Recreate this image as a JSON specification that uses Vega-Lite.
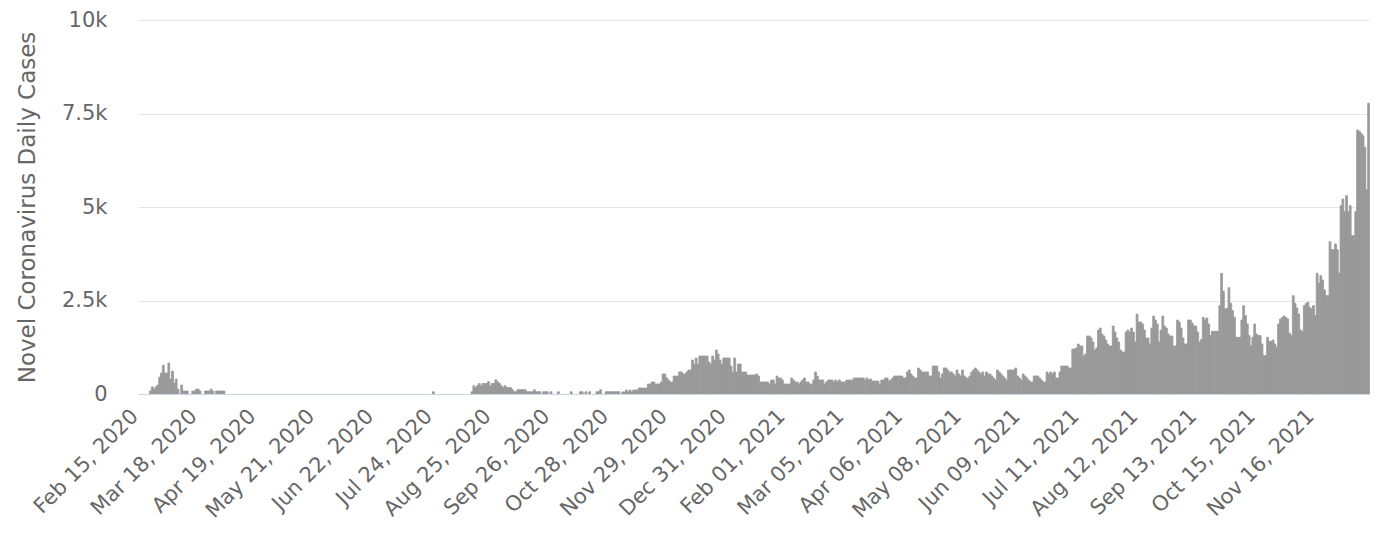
{
"$schema": "https://vega.github.io/schema/vega-lite/v6.json",
"width": 1231, "height": 374,
"autosize": "none",
"padding": {"left": 138, "top": 20, "right": 20, "bottom": 142},
"background": "#ffffff",
"config": {"view": {"stroke": null}, "font": "DejaVu Sans"},
"data": {"values": [
{"d":"2020-02-21","v":80},{"d":"2020-02-22","v":190},{"d":"2020-02-23","v":130},{"d":"2020-02-24","v":190},{"d":"2020-02-25","v":240},{"d":"2020-02-26","v":450},{"d":"2020-02-27","v":560},{"d":"2020-02-28","v":770},{"d":"2020-02-29","v":560},
{"d":"2020-03-01","v":560},{"d":"2020-03-02","v":830},{"d":"2020-03-03","v":400},{"d":"2020-03-04","v":610},{"d":"2020-03-05","v":290},{"d":"2020-03-06","v":400},{"d":"2020-03-07","v":130},{"d":"2020-03-09","v":240},{"d":"2020-03-10","v":80},{"d":"2020-03-11","v":80},{"d":"2020-03-12","v":80},{"d":"2020-03-15","v":80},{"d":"2020-03-16","v":80},{"d":"2020-03-17","v":130},{"d":"2020-03-18","v":130},{"d":"2020-03-19","v":80},{"d":"2020-03-22","v":80},{"d":"2020-03-23","v":80},{"d":"2020-03-24","v":80},{"d":"2020-03-25","v":130},{"d":"2020-03-26","v":80},{"d":"2020-03-28","v":80},{"d":"2020-03-29","v":80},{"d":"2020-03-30","v":80},{"d":"2020-03-31","v":80},{"d":"2020-04-01","v":80},
{"d":"2020-07-24","v":60},
{"d":"2020-08-14","v":60},{"d":"2020-08-15","v":220},{"d":"2020-08-16","v":170},{"d":"2020-08-17","v":220},{"d":"2020-08-18","v":280},{"d":"2020-08-19","v":220},{"d":"2020-08-20","v":280},{"d":"2020-08-21","v":280},{"d":"2020-08-22","v":280},{"d":"2020-08-23","v":330},{"d":"2020-08-24","v":220},{"d":"2020-08-25","v":280},{"d":"2020-08-26","v":280},{"d":"2020-08-27","v":380},{"d":"2020-08-28","v":330},{"d":"2020-08-29","v":280},{"d":"2020-08-30","v":220},{"d":"2020-08-31","v":170},
{"d":"2020-09-01","v":220},{"d":"2020-09-02","v":170},{"d":"2020-09-03","v":170},{"d":"2020-09-04","v":170},{"d":"2020-09-05","v":115},{"d":"2020-09-06","v":60},{"d":"2020-09-07","v":60},{"d":"2020-09-08","v":115},{"d":"2020-09-09","v":115},{"d":"2020-09-10","v":115},{"d":"2020-09-11","v":115},{"d":"2020-09-12","v":115},{"d":"2020-09-13","v":60},{"d":"2020-09-14","v":60},{"d":"2020-09-15","v":60},{"d":"2020-09-16","v":60},{"d":"2020-09-17","v":115},{"d":"2020-09-18","v":60},{"d":"2020-09-19","v":60},{"d":"2020-09-20","v":60},{"d":"2020-09-22","v":60},{"d":"2020-09-23","v":60},{"d":"2020-09-24","v":60},{"d":"2020-09-26","v":60},{"d":"2020-09-30","v":60},
{"d":"2020-10-07","v":60},{"d":"2020-10-12","v":60},{"d":"2020-10-13","v":60},{"d":"2020-10-15","v":60},{"d":"2020-10-17","v":60},{"d":"2020-10-21","v":60},{"d":"2020-10-22","v":60},{"d":"2020-10-23","v":115},{"d":"2020-10-26","v":60},{"d":"2020-10-27","v":60},{"d":"2020-10-28","v":60},{"d":"2020-10-29","v":60},{"d":"2020-10-30","v":60},{"d":"2020-10-31","v":60},
{"d":"2020-11-01","v":60},{"d":"2020-11-02","v":60},{"d":"2020-11-04","v":55},{"d":"2020-11-05","v":55},{"d":"2020-11-06","v":107},{"d":"2020-11-07","v":55},{"d":"2020-11-08","v":107},{"d":"2020-11-09","v":55},{"d":"2020-11-10","v":107},{"d":"2020-11-11","v":107},{"d":"2020-11-12","v":107},{"d":"2020-11-13","v":160},{"d":"2020-11-14","v":160},{"d":"2020-11-15","v":160},{"d":"2020-11-16","v":160},{"d":"2020-11-17","v":160},{"d":"2020-11-18","v":267},{"d":"2020-11-19","v":267},{"d":"2020-11-20","v":320},{"d":"2020-11-21","v":320},{"d":"2020-11-22","v":267},{"d":"2020-11-23","v":267},{"d":"2020-11-24","v":267},{"d":"2020-11-25","v":320},{"d":"2020-11-26","v":535},{"d":"2020-11-27","v":535},{"d":"2020-11-28","v":430},{"d":"2020-11-29","v":375},{"d":"2020-11-30","v":320},
{"d":"2020-12-01","v":320},{"d":"2020-12-02","v":480},{"d":"2020-12-03","v":480},{"d":"2020-12-04","v":480},{"d":"2020-12-05","v":590},{"d":"2020-12-06","v":590},{"d":"2020-12-07","v":535},{"d":"2020-12-08","v":535},{"d":"2020-12-09","v":590},{"d":"2020-12-10","v":640},{"d":"2020-12-11","v":640},{"d":"2020-12-12","v":909},{"d":"2020-12-13","v":800},{"d":"2020-12-14","v":962},{"d":"2020-12-15","v":802},{"d":"2020-12-16","v":1016},{"d":"2020-12-17","v":1016},{"d":"2020-12-18","v":1016},{"d":"2020-12-19","v":1016},{"d":"2020-12-20","v":1016},{"d":"2020-12-21","v":855},{"d":"2020-12-22","v":802},{"d":"2020-12-23","v":1016},{"d":"2020-12-24","v":909},{"d":"2020-12-25","v":1176},{"d":"2020-12-26","v":1069},{"d":"2020-12-27","v":909},{"d":"2020-12-28","v":802},{"d":"2020-12-29","v":962},{"d":"2020-12-30","v":962},{"d":"2020-12-31","v":962},
{"d":"2021-01-01","v":962},{"d":"2021-01-02","v":748},{"d":"2021-01-03","v":588},{"d":"2021-01-04","v":962},{"d":"2021-01-05","v":588},{"d":"2021-01-06","v":802},{"d":"2021-01-07","v":802},{"d":"2021-01-08","v":588},{"d":"2021-01-09","v":588},{"d":"2021-01-10","v":588},{"d":"2021-01-11","v":508},{"d":"2021-01-12","v":508},{"d":"2021-01-13","v":508},{"d":"2021-01-14","v":508},{"d":"2021-01-15","v":508},{"d":"2021-01-16","v":535},{"d":"2021-01-17","v":481},{"d":"2021-01-18","v":321},{"d":"2021-01-19","v":321},{"d":"2021-01-20","v":321},{"d":"2021-01-21","v":321},{"d":"2021-01-22","v":321},{"d":"2021-01-23","v":267},{"d":"2021-01-24","v":374},{"d":"2021-01-25","v":374},{"d":"2021-01-26","v":267},{"d":"2021-01-27","v":481},{"d":"2021-01-28","v":428},{"d":"2021-01-29","v":428},{"d":"2021-01-30","v":374},{"d":"2021-01-31","v":267},
{"d":"2021-02-01","v":267},{"d":"2021-02-02","v":267},{"d":"2021-02-03","v":267},{"d":"2021-02-04","v":428},{"d":"2021-02-05","v":374},{"d":"2021-02-06","v":321},{"d":"2021-02-07","v":321},{"d":"2021-02-08","v":267},{"d":"2021-02-09","v":321},{"d":"2021-02-10","v":374},{"d":"2021-02-11","v":428},{"d":"2021-02-12","v":321},{"d":"2021-02-13","v":321},{"d":"2021-02-14","v":267},{"d":"2021-02-15","v":267},{"d":"2021-02-16","v":374},{"d":"2021-02-17","v":588},{"d":"2021-02-18","v":481},{"d":"2021-02-19","v":374},{"d":"2021-02-20","v":374},{"d":"2021-02-21","v":374},{"d":"2021-02-22","v":267},{"d":"2021-02-23","v":321},{"d":"2021-02-24","v":374},{"d":"2021-02-25","v":374},{"d":"2021-02-26","v":374},{"d":"2021-02-27","v":321},{"d":"2021-02-28","v":374},
{"d":"2021-03-01","v":321},{"d":"2021-03-02","v":374},{"d":"2021-03-03","v":321},{"d":"2021-03-04","v":321},{"d":"2021-03-05","v":321},{"d":"2021-03-06","v":374},{"d":"2021-03-07","v":374},{"d":"2021-03-08","v":374},{"d":"2021-03-09","v":374},{"d":"2021-03-10","v":428},{"d":"2021-03-11","v":428},{"d":"2021-03-12","v":428},{"d":"2021-03-13","v":428},{"d":"2021-03-14","v":428},{"d":"2021-03-15","v":428},{"d":"2021-03-16","v":374},{"d":"2021-03-17","v":428},{"d":"2021-03-18","v":374},{"d":"2021-03-19","v":401},{"d":"2021-03-20","v":347},{"d":"2021-03-21","v":347},{"d":"2021-03-22","v":347},{"d":"2021-03-23","v":347},{"d":"2021-03-24","v":267},{"d":"2021-03-25","v":374},{"d":"2021-03-26","v":374},{"d":"2021-03-27","v":428},{"d":"2021-03-28","v":428},{"d":"2021-03-29","v":347},{"d":"2021-03-30","v":374},{"d":"2021-03-31","v":428},
{"d":"2021-04-01","v":481},{"d":"2021-04-02","v":481},{"d":"2021-04-03","v":481},{"d":"2021-04-04","v":481},{"d":"2021-04-05","v":481},{"d":"2021-04-06","v":428},{"d":"2021-04-07","v":428},{"d":"2021-04-08","v":588},{"d":"2021-04-09","v":642},{"d":"2021-04-10","v":535},{"d":"2021-04-11","v":481},{"d":"2021-04-12","v":428},{"d":"2021-04-13","v":428},{"d":"2021-04-14","v":695},{"d":"2021-04-15","v":642},{"d":"2021-04-16","v":588},{"d":"2021-04-17","v":588},{"d":"2021-04-18","v":588},{"d":"2021-04-19","v":588},{"d":"2021-04-20","v":481},{"d":"2021-04-21","v":481},{"d":"2021-04-22","v":748},{"d":"2021-04-23","v":748},{"d":"2021-04-24","v":748},{"d":"2021-04-25","v":588},{"d":"2021-04-26","v":428},{"d":"2021-04-27","v":535},{"d":"2021-04-28","v":695},{"d":"2021-04-29","v":695},{"d":"2021-04-30","v":642},
{"d":"2021-05-01","v":588},{"d":"2021-05-02","v":588},{"d":"2021-05-03","v":535},{"d":"2021-05-04","v":481},{"d":"2021-05-05","v":642},{"d":"2021-05-06","v":535},{"d":"2021-05-07","v":481},{"d":"2021-05-08","v":642},{"d":"2021-05-09","v":481},{"d":"2021-05-10","v":428},{"d":"2021-05-11","v":428},{"d":"2021-05-12","v":481},{"d":"2021-05-13","v":588},{"d":"2021-05-14","v":642},{"d":"2021-05-15","v":695},{"d":"2021-05-16","v":642},{"d":"2021-05-17","v":588},{"d":"2021-05-18","v":535},{"d":"2021-05-19","v":588},{"d":"2021-05-20","v":481},{"d":"2021-05-21","v":588},{"d":"2021-05-22","v":535},{"d":"2021-05-23","v":535},{"d":"2021-05-24","v":481},{"d":"2021-05-25","v":428},{"d":"2021-05-26","v":374},{"d":"2021-05-27","v":642},{"d":"2021-05-28","v":588},{"d":"2021-05-29","v":535},{"d":"2021-05-30","v":481},{"d":"2021-05-31","v":428},
{"d":"2021-06-01","v":374},{"d":"2021-06-02","v":642},{"d":"2021-06-03","v":642},{"d":"2021-06-04","v":642},{"d":"2021-06-05","v":642},{"d":"2021-06-06","v":695},{"d":"2021-06-07","v":481},{"d":"2021-06-08","v":428},{"d":"2021-06-09","v":374},{"d":"2021-06-10","v":535},{"d":"2021-06-11","v":481},{"d":"2021-06-12","v":428},{"d":"2021-06-13","v":374},{"d":"2021-06-14","v":321},{"d":"2021-06-15","v":321},{"d":"2021-06-16","v":481},{"d":"2021-06-17","v":481},{"d":"2021-06-18","v":481},{"d":"2021-06-19","v":428},{"d":"2021-06-20","v":374},{"d":"2021-06-21","v":321},{"d":"2021-06-22","v":321},{"d":"2021-06-23","v":588},{"d":"2021-06-24","v":535},{"d":"2021-06-25","v":588},{"d":"2021-06-26","v":535},{"d":"2021-06-27","v":588},{"d":"2021-06-28","v":428},{"d":"2021-06-29","v":428},{"d":"2021-06-30","v":588},
{"d":"2021-07-01","v":748},{"d":"2021-07-02","v":748},{"d":"2021-07-03","v":748},{"d":"2021-07-04","v":748},{"d":"2021-07-05","v":695},{"d":"2021-07-06","v":695},{"d":"2021-07-07","v":1203},{"d":"2021-07-08","v":1203},{"d":"2021-07-09","v":1230},{"d":"2021-07-10","v":1337},{"d":"2021-07-11","v":1283},{"d":"2021-07-12","v":1283},{"d":"2021-07-13","v":1016},{"d":"2021-07-14","v":1069},{"d":"2021-07-15","v":1550},{"d":"2021-07-16","v":1550},{"d":"2021-07-17","v":1497},{"d":"2021-07-18","v":1390},{"d":"2021-07-19","v":1176},{"d":"2021-07-20","v":1230},{"d":"2021-07-21","v":1711},{"d":"2021-07-22","v":1764},{"d":"2021-07-23","v":1600},{"d":"2021-07-24","v":1550},{"d":"2021-07-25","v":1443},{"d":"2021-07-26","v":1337},{"d":"2021-07-27","v":1283},{"d":"2021-07-28","v":1283},{"d":"2021-07-29","v":1818},{"d":"2021-07-30","v":1657},{"d":"2021-07-31","v":1497},
{"d":"2021-08-01","v":1390},{"d":"2021-08-02","v":1176},{"d":"2021-08-03","v":1123},{"d":"2021-08-04","v":1123},{"d":"2021-08-05","v":1657},{"d":"2021-08-06","v":1711},{"d":"2021-08-07","v":1657},{"d":"2021-08-08","v":1764},{"d":"2021-08-09","v":1657},{"d":"2021-08-10","v":1390},{"d":"2021-08-11","v":2138},{"d":"2021-08-12","v":1925},{"d":"2021-08-13","v":1925},{"d":"2021-08-14","v":1871},{"d":"2021-08-15","v":1711},{"d":"2021-08-16","v":1497},{"d":"2021-08-17","v":1497},{"d":"2021-08-18","v":1337},{"d":"2021-08-19","v":1764},{"d":"2021-08-20","v":2085},{"d":"2021-08-21","v":1978},{"d":"2021-08-22","v":1871},{"d":"2021-08-23","v":1390},{"d":"2021-08-24","v":1711},{"d":"2021-08-25","v":2085},{"d":"2021-08-26","v":1818},{"d":"2021-08-27","v":1764},{"d":"2021-08-28","v":1604},{"d":"2021-08-29","v":1550},{"d":"2021-08-30","v":1550},{"d":"2021-08-31","v":1283},
{"d":"2021-09-01","v":1283},{"d":"2021-09-02","v":1978},{"d":"2021-09-03","v":1925},{"d":"2021-09-04","v":1764},{"d":"2021-09-05","v":1497},{"d":"2021-09-06","v":1337},{"d":"2021-09-07","v":1337},{"d":"2021-09-08","v":1978},{"d":"2021-09-09","v":1978},{"d":"2021-09-10","v":1900},{"d":"2021-09-11","v":1818},{"d":"2021-09-12","v":1818},{"d":"2021-09-13","v":1657},{"d":"2021-09-14","v":1390},{"d":"2021-09-15","v":1460},{"d":"2021-09-16","v":2050},{"d":"2021-09-17","v":1979},{"d":"2021-09-18","v":2032},{"d":"2021-09-19","v":1872},{"d":"2021-09-20","v":1560},{"d":"2021-09-21","v":1676},{"d":"2021-09-22","v":1676},{"d":"2021-09-23","v":1676},{"d":"2021-09-24","v":1676},{"d":"2021-09-25","v":2362},{"d":"2021-09-26","v":3227},{"d":"2021-09-27","v":2745},{"d":"2021-09-28","v":2273},{"d":"2021-09-29","v":2291},{"d":"2021-09-30","v":2843},
{"d":"2021-10-01","v":2424},{"d":"2021-10-02","v":2228},{"d":"2021-10-03","v":2050},{"d":"2021-10-04","v":1515},{"d":"2021-10-05","v":1515},{"d":"2021-10-06","v":1515},{"d":"2021-10-07","v":1979},{"d":"2021-10-08","v":2362},{"d":"2021-10-09","v":2095},{"d":"2021-10-10","v":1872},{"d":"2021-10-11","v":1560},{"d":"2021-10-12","v":1292},{"d":"2021-10-13","v":1515},{"d":"2021-10-14","v":1872},{"d":"2021-10-15","v":1604},{"d":"2021-10-16","v":1560},{"d":"2021-10-17","v":1560},{"d":"2021-10-18","v":1337},{"d":"2021-10-19","v":1025},{"d":"2021-10-20","v":1025},{"d":"2021-10-21","v":1515},{"d":"2021-10-22","v":1408},{"d":"2021-10-23","v":1408},{"d":"2021-10-24","v":1444},{"d":"2021-10-25","v":1337},{"d":"2021-10-26","v":1248},{"d":"2021-10-27","v":1872},{"d":"2021-10-28","v":2000},{"d":"2021-10-29","v":2050},{"d":"2021-10-30","v":2086},{"d":"2021-10-31","v":2050},
{"d":"2021-11-01","v":2005},{"d":"2021-11-02","v":1622},{"d":"2021-11-03","v":1560},{"d":"2021-11-04","v":2629},{"d":"2021-11-05","v":2424},{"d":"2021-11-06","v":2300},{"d":"2021-11-07","v":2139},{"d":"2021-11-08","v":1711},{"d":"2021-11-09","v":1676},{"d":"2021-11-10","v":2362},{"d":"2021-11-11","v":2420},{"d":"2021-11-12","v":2451},{"d":"2021-11-13","v":2317},{"d":"2021-11-14","v":2273},{"d":"2021-11-15","v":2362},{"d":"2021-11-16","v":2095},{"d":"2021-11-17","v":3227},{"d":"2021-11-18","v":2959},{"d":"2021-11-19","v":3164},{"d":"2021-11-20","v":3048},{"d":"2021-11-21","v":2781},{"d":"2021-11-22","v":2629},{"d":"2021-11-23","v":2629},{"d":"2021-11-24","v":4073},{"d":"2021-11-25","v":3859},{"d":"2021-11-26","v":3859},{"d":"2021-11-27","v":4011},{"d":"2021-11-28","v":3859},{"d":"2021-11-29","v":3227},{"d":"2021-11-30","v":5036},
{"d":"2021-12-01","v":5214},{"d":"2021-12-02","v":4875},{"d":"2021-12-03","v":5303},{"d":"2021-12-04","v":4875},{"d":"2021-12-05","v":5036},{"d":"2021-12-06","v":4234},{"d":"2021-12-07","v":4234},{"d":"2021-12-08","v":4875},{"d":"2021-12-09","v":7059},{"d":"2021-12-10","v":7023},{"d":"2021-12-11","v":6970},{"d":"2021-12-12","v":6908},{"d":"2021-12-13","v":6596},{"d":"2021-12-14","v":5464},{"d":"2021-12-15","v":7772}
]},
"mark": {"type": "bar", "color": "#999999", "binSpacing": 0, "stroke": "#999999", "strokeWidth": 0.8},
"encoding": {
  "x": {"field": "d", "type": "temporal", "timeUnit": "utcyearmonthdate",
    "scale": {"domain": [1581724800000, 1639612800000]},
    "axis": {"title": null, "zindex": 1,
      "values": [1581768000000,1584532800000,1587297600000,1590062400000,1592827200000,1595592000000,1598356800000,1601121600000,1603886400000,1606651200000,1609416000000,1612180800000,1614945600000,1617710400000,1620475200000,1623240000000,1626004800000,1628769600000,1631534400000,1634299200000,1637064000000],
      "labelExpr": "utcFormat(datum.value, '%b %d, %Y')",
      "labelAngle": -45, "labelAlign": "right", "labelBaseline": "alphabetic", "labelPadding": 23,
      "ticks": false, "tickSize": 0, "grid": false,
      "domainColor": "#ccd6eb", "domainWidth": 1,
      "labelColor": "#666666", "labelFontSize": 21, "labelFont": "DejaVu Sans",
      "labelOverlap": false, "labelFlush": false, "labelBound": false}
  },
  "y": {"field": "v", "type": "quantitative",
    "scale": {"domain": [0, 10000], "nice": false},
    "axis": {"title": "Novel Coronavirus Daily Cases",
      "values": [0, 2500, 5000, 7500, 10000],
      "labelExpr": "datum.value == 0 ? '0' : (datum.value / 1000) + 'k'",
      "domain": false, "ticks": false, "tickSize": 0, "labelPadding": 31,
      "grid": true, "gridColor": "#e6e6e6", "gridWidth": 1,
      "labelColor": "#666666", "labelFontSize": 21, "labelFont": "DejaVu Sans",
      "titleColor": "#666666", "titleFontSize": 23, "titleFontWeight": "normal", "titleFont": "DejaVu Sans",
      "titleX": -104, "titleY": 187, "titleAngle": -90, "titleAlign": "center", "titleBaseline": "alphabetic"}
  }
}
}
